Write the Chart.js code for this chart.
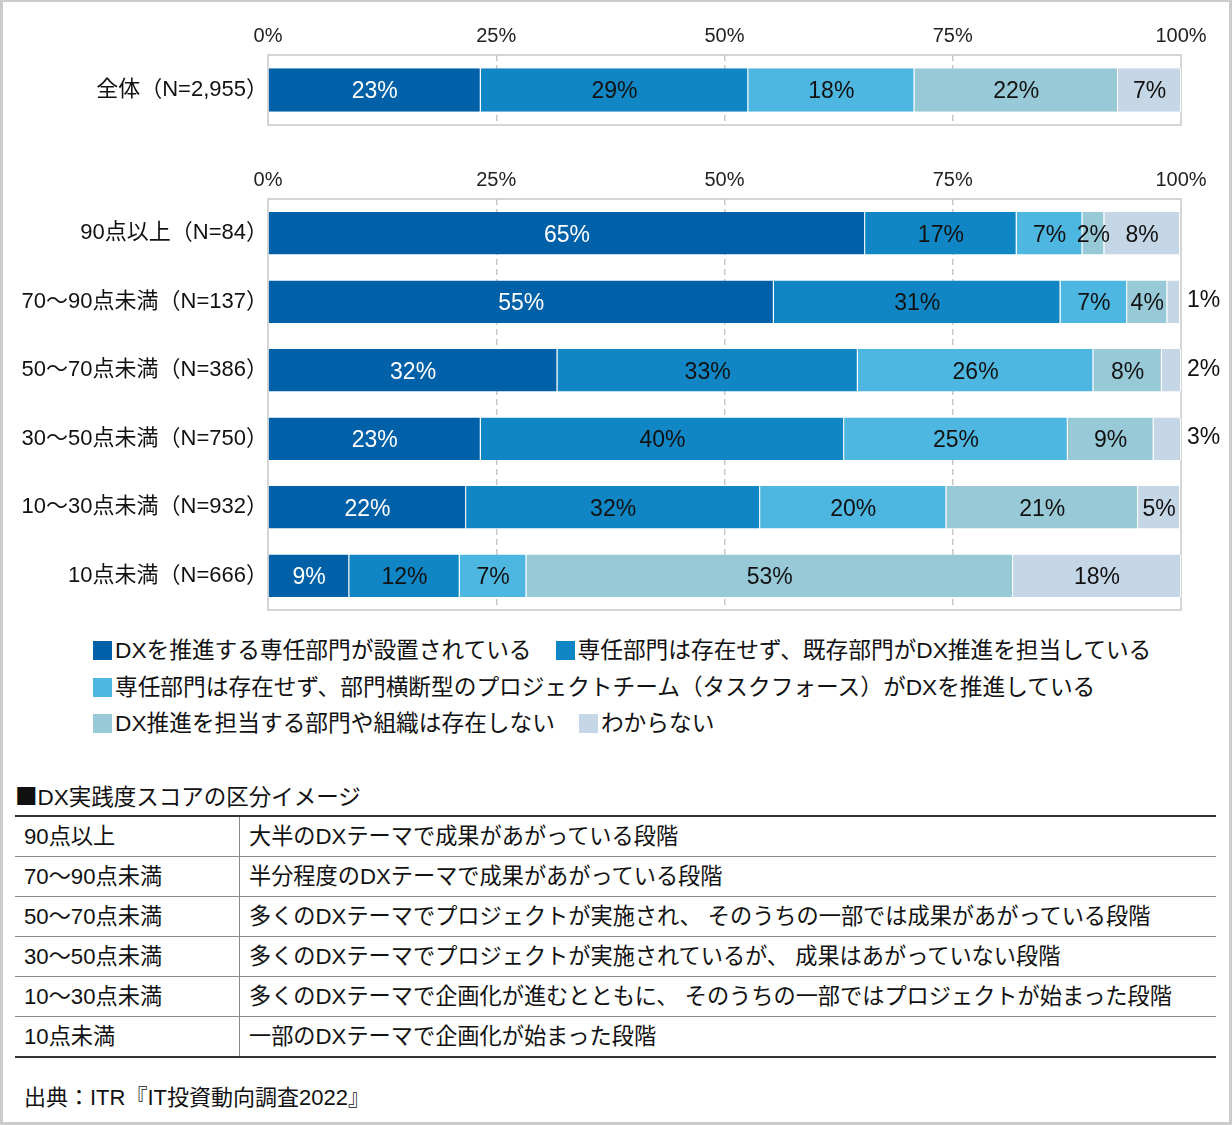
<!DOCTYPE html>
<html lang="ja">
<head>
<meta charset="utf-8">
<script src="https://cdn.jsdelivr.net/npm/chart.js@4/dist/chart.umd.min.js"></script>
<style>
  body { margin: 0; background: #fff; }
  #page {
    position: relative; width: 1232px; height: 1125px; box-sizing: border-box;
    border: 3px solid #cbcbcb; border-top-width: 2px; background: #fff;
    font-family: "Liberation Sans", "Noto Sans CJK JP", sans-serif; color: #111;
  }
  canvas { position: absolute; left: -3px; }
  .legend-row { position: absolute; left: 90px; height: 36px; line-height: 36px; font-size: 22.7px; white-space: nowrap; }
  .legend-item { display: inline-block; margin-right: 24px; }
  .legend-item i { display: inline-block; width: 19px; height: 19px; margin-right: 3px; vertical-align: -2px; }
  #tblTitle { position: absolute; left: 12px; top: 775px; font-size: 22.5px; line-height: 36px; }
  #tblTitle span { font-family: "Noto Sans CJK JP", sans-serif; }
  #scoreTable { position: absolute; left: 12px; top: 813px; width: 1201px; border-collapse: collapse; font-size: 22.2px; }
  #scoreTable td { height: 39px; padding: 0 0 0 9px; border-top: 1px solid #8a8a8a; line-height: 39px; white-space: nowrap; }
  #scoreTable tr:first-child td { border-top: 2px solid #333; }
  #scoreTable tr:last-child td { border-bottom: 2px solid #333; }
  #scoreTable td:first-child { width: 215px; border-right: 1px solid #8a8a8a; }
  #source { position: absolute; left: 21px; top: 1078px; font-size: 22px; line-height: 36px; }
</style>
</head>
<body>
<div id="page">
  <canvas id="totalChart" width="1232" height="140" style="top:-2px"></canvas>
  <canvas id="scoreChart" width="1232" height="490" style="top:138px"></canvas>
  <div id="legend"></div>
  <div id="tblTitle"><span>■</span>DX実践度スコアの区分イメージ</div>
  <table id="scoreTable"></table>
  <div id="source">出典：ITR『IT投資動向調査2022』</div>
</div>
<script>
// series (DX推進体制)
const seriesNames = [
  'DXを推進する専任部門が設置されている',
  '専任部門は存在せず、既存部門がDX推進を担当している',
  '専任部門は存在せず、部門横断型のプロジェクトチーム（タスクフォース）がDXを推進している',
  'DX推進を担当する部門や組織は存在しない',
  'わからない'
];
const seriesColors = ['#0060a8', '#1086c5', '#4db6e1', '#97c9d7', '#c5d6e6'];

// overall
const totalLabels = ['全体（N=2,955）'];
const totalValues = [[23.3], [29.3], [18.2], [22.3], [6.9]];

// by DX score
const scoreLabels = [
  '90点以上（N=84）',
  '70～90点未満（N=137）',
  '50～70点未満（N=386）',
  '30～50点未満（N=750）',
  '10～30点未満（N=932）',
  '10点未満（N=666）'
];
const dedicated   = [65.4, 55.4, 31.7, 23.3, 21.7, 8.9];
const existing    = [16.6, 31.4, 32.9, 39.8, 32.2, 12.1];
const crossTeam   = [7.2, 7.3, 25.8, 24.5, 20.4, 7.3];
const noneExists  = [2.4, 4.4, 7.5, 9.4, 21.0, 53.3];
const unknown     = [8.3, 1.4, 2.1, 3.0, 4.6, 18.4];

const axisTicks = [0, 25, 50, 75, 100];

// table of score bands
const bandNames = ['90点以上', '70～90点未満', '50～70点未満', '30～50点未満', '10～30点未満', '10点未満'];
const bandDescriptions = [
  '大半のDXテーマで成果があがっている段階',
  '半分程度のDXテーマで成果があがっている段階',
  '多くのDXテーマでプロジェクトが実施され、 そのうちの一部では成果があがっている段階',
  '多くのDXテーマでプロジェクトが実施されているが、 成果はあがっていない段階',
  '多くのDXテーマで企画化が進むとともに、 そのうちの一部ではプロジェクトが始まった段階',
  '一部のDXテーマで企画化が始まった段階'
];

const FONT = '"Liberation Sans", "Noto Sans CJK JP", sans-serif';

// percent labels on the bars, small last segments go outside on the right
const barLabels = {
  id: 'barLabels',
  afterDatasetsDraw(chart) {
    const ctx = chart.ctx;
    const area = chart.chartArea;
    const last = chart.data.datasets.length - 1;
    ctx.save();
    ctx.font = '23px ' + FONT;
    ctx.textBaseline = 'middle';
    chart.data.datasets.forEach((ds, di) => {
      chart.getDatasetMeta(di).data.forEach((bar, i) => {
        const text = Math.round(ds.data[i]) + '%';
        const w = ctx.measureText(text).width;
        const segW = bar.x - bar.base;
        if (di === last && segW < w) {
          ctx.fillStyle = '#111';
          ctx.textAlign = 'left';
          ctx.fillText(text, area.right + 6, bar.y - 1);
        } else {
          ctx.fillStyle = di === 0 ? '#fff' : '#111';
          ctx.textAlign = 'center';
          ctx.fillText(text, (bar.x + bar.base) / 2, bar.y + 2);
        }
      });
    });
    ctx.restore();
  }
};

// light grey frame round the plot area
const plotFrame = {
  id: 'plotFrame',
  beforeDatasetsDraw(chart) {
    const a = chart.chartArea;
    const ctx = chart.ctx;
    ctx.save();
    ctx.strokeStyle = '#c8c8c8';
    ctx.lineWidth = 1.5;
    ctx.strokeRect(a.left, a.top, a.right - a.left, a.bottom - a.top);
    ctx.restore();
  }
};

function makeChart(id, labels, values, pad) {
  const datasets = values.map((data, k) => ({
    label: seriesNames[k],
    data: data,
    backgroundColor: seriesColors[k],
    borderColor: '#ffffff',
    borderWidth: { right: 1 },
    categoryPercentage: 1,
    barPercentage: 0.62
  }));
  return new Chart(document.getElementById(id), {
    type: 'bar',
    data: { labels: labels, datasets: datasets },
    options: {
      indexAxis: 'y',
      responsive: false,
      animation: false,
      devicePixelRatio: 1,
      layout: { padding: pad },
      plugins: { legend: { display: false }, tooltip: { enabled: false } },
      scales: {
        x: {
          position: 'top',
          stacked: true,
          min: 0,
          max: 100,
          afterBuildTicks: s => { s.ticks = axisTicks.map(v => ({ value: v })); },
          afterFit: s => { s.height = 40; },
          ticks: {
            callback: v => v + '%',
            font: { size: 20, family: FONT },
            color: '#222',
            padding: 7
          },
          grid: {
            drawTicks: false,
            color: c => (c.tick && (c.tick.value === 0 || c.tick.value === 100)) ? 'rgba(0,0,0,0)' : '#c8c8c8',
            lineWidth: 1.5
          },
          border: { display: false, dash: [6, 4] }
        },
        y: {
          stacked: true,
          afterFit: s => { s.width = 268; s.paddingTop = 0; s.paddingBottom = 0; },
          ticks: { font: { size: 22, family: FONT }, color: '#111', padding: 0 },
          grid: { display: false, drawTicks: false },
          border: { display: false }
        }
      }
    },
    plugins: [plotFrame, barLabels]
  });
}

makeChart('totalChart', totalLabels, totalValues, { top: 15, bottom: 15, left: 0, right: 51 });
makeChart('scoreChart', scoreLabels,
  [dedicated, existing, crossTeam, noneExists, unknown],
  { top: 19, bottom: 20, left: 0, right: 51 });

// legend laid out in the same three rows as the original
const legendRows = [[0, 1], [2], [3, 4]];
const legendTops = [630, 667, 703];
const legendBox = document.getElementById('legend');
legendRows.forEach((row, r) => {
  const div = document.createElement('div');
  div.className = 'legend-row';
  div.style.top = legendTops[r] + 'px';
  row.forEach(k => {
    const item = document.createElement('span');
    item.className = 'legend-item';
    item.innerHTML = '<i style="background:' + seriesColors[k] + '"></i>' + seriesNames[k];
    div.appendChild(item);
  });
  legendBox.appendChild(div);
});

const table = document.getElementById('scoreTable');
bandNames.forEach((name, i) => {
  const tr = document.createElement('tr');
  const a = document.createElement('td');
  const b = document.createElement('td');
  a.textContent = name;
  b.textContent = bandDescriptions[i];
  tr.appendChild(a);
  tr.appendChild(b);
  table.appendChild(tr);
});
</script>
</body>
</html>
